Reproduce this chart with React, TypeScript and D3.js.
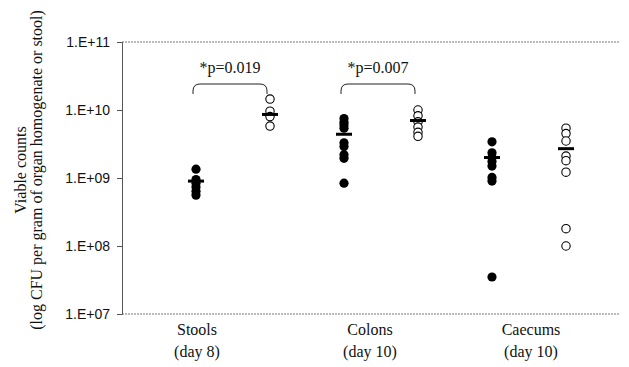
import React, { useEffect, useRef } from 'react';
import * as d3 from 'd3';

const categories = ['Stools', 'Colons', 'Caecums'];
const dayLabels = ['(day 8)', '(day 10)', '(day 10)'];
const yTicks = [1e7, 1e8, 1e9, 1e10, 1e11];

// filled (group A) and open (group B) viable counts per category
const filledValues = [
  [1.35e9, 9.5e8, 8.4e8, 7.4e8, 6.4e8, 5.6e8],
  [7.5e9, 6.6e9, 6.0e9, 5.4e9, 3.3e9, 2.9e9, 2.2e9, 1.95e9, 8.4e8],
  [3.4e9, 2.35e9, 2.0e9, 1.75e9, 1.5e9, 1.02e9, 9.0e8, 3.5e7],
];
const openValues = [
  [1.45e10, 9.6e9, 8.0e9, 5.8e9],
  [1.0e10, 8.2e9, 6.7e9, 5.6e9, 4.7e9, 4.1e9],
  [5.4e9, 4.5e9, 3.5e9, 2.1e9, 1.8e9, 1.22e9, 1.8e8, 1.0e8],
];
const filledMedians = [9.0e8, 4.4e9, 2.0e9];
const openMedians = [8.6e9, 7.0e9, 2.7e9];

const pLabels = ['*p=0.019', '*p=0.007'];
const yTitle = ['Viable counts', '(log CFU per gram of organ homogenate or stool)'];

const App = () => {
  const ref = useRef<SVGSVGElement | null>(null);

  useEffect(() => {
    const svg = d3.select(ref.current);
    svg.selectAll('*').remove();

    const left = 122, right = 620, top = 42, bottom = 314;
    const serif = '"Liberation Serif", "Times New Roman", serif';
    const sans = '"Liberation Sans", Arial, sans-serif';

    const y = d3.scaleLog().domain([1e7, 1e11]).range([bottom, top]);
    const x = d3.scalePoint<string>().domain(categories).range([159, 603]).padding(0.5);
    const off = 37;
    const labelShift = [-36, -11, 2];

    // frame lines
    svg.append('line').attr('x1', left).attr('x2', right).attr('y1', top).attr('y2', top)
      .attr('stroke', '#777').attr('stroke-dasharray', '2,1');
    svg.append('line').attr('x1', left).attr('x2', right).attr('y1', bottom).attr('y2', bottom)
      .attr('stroke', '#777').attr('stroke-dasharray', '2,1');

    const yAxis = svg.append('g').attr('transform', `translate(${left},0)`)
      .call(d3.axisLeft(y).tickValues(yTicks).tickSize(5).tickPadding(7)
        .tickFormat(d => `1.E+${String(Math.round(Math.log10(+d))).padStart(2, '0')}`));
    yAxis.select('.domain').attr('stroke', '#555');
    yAxis.selectAll('.tick line').attr('stroke', '#555');
    yAxis.selectAll('text').attr('font-family', sans).attr('font-size', 14).attr('fill', '#111');

    // y title
    yTitle.forEach((t, i) => {
      svg.append('text')
        .attr('transform', `translate(${26 + i * 16},170) rotate(-90)`)
        .attr('text-anchor', 'middle')
        .attr('font-family', serif).attr('font-size', 16).attr('fill', '#111')
        .text(t);
    });

    // x labels
    categories.forEach((c, i) => {
      const cx = x(c)! + labelShift[i];
      svg.append('text').attr('x', cx).attr('y', 335).attr('text-anchor', 'middle')
        .attr('font-family', serif).attr('font-size', 16).attr('fill', '#111').text(c);
      svg.append('text').attr('x', cx).attr('y', 357).attr('text-anchor', 'middle')
        .attr('font-family', serif).attr('font-size', 16).attr('fill', '#111').text(dayLabels[i]);
    });

    categories.forEach((c, i) => {
      const fx = x(c)! - off, ox = x(c)! + off;
      svg.append('g').selectAll('circle').data(filledValues[i]).enter().append('circle')
        .attr('cx', fx).attr('cy', d => y(d)).attr('r', 4.6).attr('fill', '#000');
      svg.append('g').selectAll('circle').data(openValues[i]).enter().append('circle')
        .attr('cx', ox).attr('cy', d => y(d)).attr('r', 4.2).attr('fill', '#fff')
        .attr('stroke', '#000').attr('stroke-width', 1.1);
      svg.append('line').attr('x1', fx - 8).attr('x2', fx + 8)
        .attr('y1', y(filledMedians[i])).attr('y2', y(filledMedians[i]))
        .attr('stroke', '#000').attr('stroke-width', 3);
      svg.append('line').attr('x1', ox - 8).attr('x2', ox + 8)
        .attr('y1', y(openMedians[i])).attr('y2', y(openMedians[i]))
        .attr('stroke', '#000').attr('stroke-width', 3);
    });

    // significance brackets
    pLabels.forEach((p, i) => {
      const cx = x(categories[i])!;
      const x0 = cx - off - 3, x1 = cx + off - 3, by = 84, r = 7;
      svg.append('path')
        .attr('d', `M${x0},${by + 10} L${x0},${by + r} Q${x0},${by} ${x0 + r},${by} L${x1 - r},${by} Q${x1},${by} ${x1},${by + r} L${x1},${by + 10}`)
        .attr('fill', 'none').attr('stroke', '#222').attr('stroke-width', 1);
      svg.append('text').attr('x', cx - 3).attr('y', 73).attr('text-anchor', 'middle')
        .attr('font-family', serif).attr('font-size', 16).attr('fill', '#111').text(p);
    });
  }, []);

  return <svg ref={ref} width={629} height={367} style={{ display: 'block', position: 'absolute', left: 0, top: 0 }} />;
};

export default App;
